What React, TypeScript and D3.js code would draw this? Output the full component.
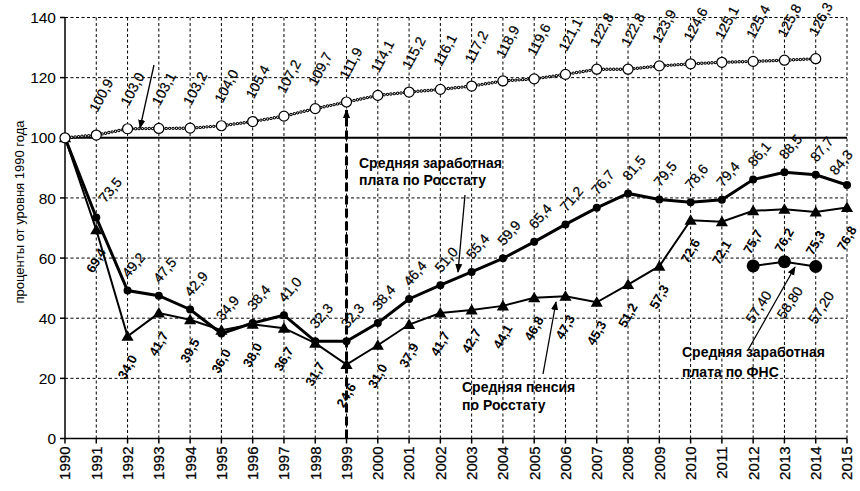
import React from "react";
import * as d3 from "d3";

const years = [1990, 1991, 1992, 1993, 1994, 1995, 1996, 1997, 1998, 1999, 2000, 2001, 2002,
    2003, 2004, 2005, 2006, 2007, 2008, 2009, 2010, 2011, 2012, 2013, 2014, 2015];
// 1990..2014
const priceLevel = [100, 100.9, 103.0, 103.1, 103.2, 104.0, 105.4, 107.2, 109.7, 111.9, 114.1, 115.2,
    116.1, 117.2, 118.9, 119.6, 121.1, 122.8, 122.8, 123.9, 124.6, 125.1, 125.4, 125.8, 126.3];
// 1990..2015
const salaryRosstat = [100, 73.5, 49.2, 47.5, 42.9, 34.9, 38.4, 41.0, 32.3, 32.3, 38.4, 46.4, 51.0,
    55.4, 59.9, 65.4, 71.2, 76.7, 81.5, 79.5, 78.6, 79.4, 86.1, 88.5, 87.7, 84.3];
const pensionRosstat = [100, 69.4, 34.0, 41.7, 39.5, 36.0, 38.0, 36.7, 31.7, 24.6, 31.0, 37.9, 41.7,
    42.7, 44.1, 46.8, 47.3, 45.3, 51.2, 57.3, 72.6, 72.1, 75.7, 76.2, 75.3, 76.8];
const fnsYears = [2012, 2013, 2014];
const salaryFns = [57.4, 58.8, 57.2];
const yTicks = [0, 20, 40, 60, 80, 100, 120, 140];

const font = "'Liberation Sans', Arial, sans-serif";

const App = () => {
    const width = 860;
    const height = 491;
    const x = d3.scaleLinear().domain([1990, 2015]).range([65, 847]);
    const y = d3.scaleLinear().domain([0, 140]).range([438.5, 17.5]);

    const line = d3.line<number>()
        .x((d, i) => x(years[i]))
        .y(d => y(d));
    const fnsLine = d3.line<number>()
        .x((d, i) => x(fnsYears[i]))
        .y(d => y(d));

    const comma = (v: number, n = 1) => v.toFixed(n).replace(".", ",");
    const tri = d3.symbol().type(d3.symbolTriangle).size(64)();

    // label nudges for the salary series (first label sits right of the steep drop, last one near the edge)
    const last = years.length - 1;
    const salaryDx = (i: number) => i === 1 ? 9 : i === last ? -11 : 1;
    const salaryDy = (i: number) => i === 1 ? -14 : i === last ? -9 : -12;

    return (
        <svg width={width} height={height}
            style={{ position: "absolute", left: 0, top: 0, background: "#fff" }}
            fontFamily={font}>
            <defs>
                <marker id="ah" viewBox="0 0 10 10" refX="9" refY="5" markerWidth="9" markerHeight="9"
                    markerUnits="userSpaceOnUse" orient="auto">
                    <path d="M0,1 L10,5 L0,9 Z" fill="#000" />
                </marker>
            </defs>

            {/* grid */}
            {yTicks.filter(t => t > 0 && t !== 100).map(t =>
                <line key={"h" + t} x1={x(1990)} x2={x(2015)} y1={y(t)} y2={y(t)}
                    stroke="#000" strokeWidth={1} strokeDasharray="3 2.5" />
            )}
            {years.filter(yr => yr > 1990).map(yr =>
                <line key={"v" + yr} x1={x(yr)} x2={x(yr)} y1={y(0)} y2={y(140)}
                    stroke="#000" strokeWidth={1} strokeDasharray="3 2.5" />
            )}
            <line x1={x(1990)} x2={x(2015)} y1={y(100)} y2={y(100)} stroke="#000" strokeWidth={2} />

            {/* axes */}
            <line x1={x(1990)} x2={x(1990)} y1={y(0)} y2={y(140)} stroke="#000" strokeWidth={1.5} />
            <line x1={x(1990)} x2={x(2015)} y1={y(0)} y2={y(0)} stroke="#000" strokeWidth={1.5} />
            {yTicks.map(t =>
                <g key={"yt" + t}>
                    <line x1={x(1990) - 5} x2={x(1990)} y1={y(t)} y2={y(t)} stroke="#000" strokeWidth={1.5} />
                    <text x={x(1990) - 9} y={y(t)} dy="0.36em" textAnchor="end" fontSize={15.5}>{t}</text>
                </g>
            )}
            {years.map(yr =>
                <g key={"xt" + yr}>
                    <line x1={x(yr)} x2={x(yr)} y1={y(0)} y2={y(0) + 5} stroke="#000" strokeWidth={1.5} />
                    <text transform={`translate(${x(yr)},${y(0) + 8}) rotate(-90)`} dy="0.36em"
                        textAnchor="end" fontSize={15} stroke="#000" strokeWidth={0.25}>{yr}</text>
                </g>
            )}
            <text transform={`translate(19,212) rotate(-90)`} dy="0.36em" textAnchor="middle"
                fontSize={13}>проценты от уровня 1990 года</text>

            {/* 1999 marker */}
            <line x1={x(1999)} x2={x(1999)} y1={y(0)} y2={y(111.9) + 8} stroke="#000" strokeWidth={3}
                strokeDasharray="9 4" markerEnd="url(#ah)" />

            {/* pension */}
            <path d={line(pensionRosstat) ?? ""} fill="none" stroke="#000" strokeWidth={2} />
            {pensionRosstat.map((v, i) =>
                <path key={"pm" + i} d={tri ?? ""} transform={`translate(${x(years[i])},${y(v) + 1})`} fill="#000" />
            )}
            {pensionRosstat.slice(1).map((v, i) =>
                <text key={"pl" + i} transform={`translate(${x(years[i + 1]) + 10},${y(v) + 22}) rotate(-60)`}
                    textAnchor="end" fontSize={13} fontWeight="bold">{comma(v)}</text>
            )}

            {/* salary rosstat */}
            <path d={line(salaryRosstat) ?? ""} fill="none" stroke="#000" strokeWidth={3} />
            {salaryRosstat.map((v, i) =>
                <circle key={"sm" + i} cx={x(years[i])} cy={y(v)} r={4} fill="#000" />
            )}
            {salaryRosstat.map((v, i) => i === 0 ? null :
                <text key={"sl" + i}
                    transform={`translate(${x(years[i]) + salaryDx(i)},${y(v) + salaryDy(i)}) rotate(-50)`}
                    fontSize={14} stroke="#000" strokeWidth={0.2}>{comma(v)}</text>
            )}

            {/* price level (chain line) */}
            <path d={line(priceLevel) ?? ""} fill="none" stroke="#000" strokeWidth={3.4}
                strokeDasharray="0 3.4" strokeLinecap="round" />
            <path d={line(priceLevel) ?? ""} fill="none" stroke="#fff" strokeWidth={1.4}
                strokeDasharray="0 3.4" strokeLinecap="round" />
            {priceLevel.map((v, i) =>
                <circle key={"pc" + i} cx={x(years[i])} cy={y(v)} r={5} fill="#fff" stroke="#000" strokeWidth={1.2} />
            )}
            {priceLevel.slice(1).map((v, i) =>
                <text key={"pcl" + i} transform={`translate(${x(years[i + 1]) + 1},${y(v) - 22}) rotate(-62)`}
                    fontSize={14} stroke="#000" strokeWidth={0.2}>{comma(v)}</text>
            )}

            {/* salary FNS */}
            <path d={fnsLine(salaryFns) ?? ""} fill="none" stroke="#000" strokeWidth={2} />
            {salaryFns.map((v, i) =>
                <circle key={"fm" + i} cx={x(fnsYears[i])} cy={y(v)} r={6.5} fill="#000" />
            )}
            {salaryFns.map((v, i) =>
                <text key={"fl" + i} transform={`translate(${x(fnsYears[i]) + 19},${y(v) + 29}) rotate(-57)`}
                    textAnchor="end" fontSize={14} stroke="#000" strokeWidth={0.2}>{comma(v, 2)}</text>
            )}

            {/* annotations */}
            <line x1={154} y1={65} x2={140} y2={128} stroke="#000" strokeWidth={1.3} markerEnd="url(#ah)" />

            <text x={359} y={168} fontSize={14} fontWeight="bold">
                <tspan x={359}>Средняя заработная</tspan>
                <tspan x={359} dy={17}>плата по Росстату</tspan>
            </text>
            <line x1={465} y1={195} x2={458} y2={272} stroke="#000" strokeWidth={1.3} markerEnd="url(#ah)" />

            <text x={462} y={392} fontSize={14} fontWeight="bold">
                <tspan x={462}>Средняя пенсия</tspan>
                <tspan x={462} dy={18}>по Росстату</tspan>
            </text>
            <line x1={543} y1={374} x2={556} y2={302} stroke="#000" strokeWidth={1.3} markerEnd="url(#ah)" />

            <text x={682} y={357} fontSize={14} fontWeight="bold">
                <tspan x={682}>Средняя заработная</tspan>
                <tspan x={682} dy={20}>плата по ФНС</tspan>
            </text>
            <line x1={748} y1={350} x2={795} y2={267} stroke="#000" strokeWidth={1.3} markerEnd="url(#ah)" />
        </svg>
    );
};

export default App;
